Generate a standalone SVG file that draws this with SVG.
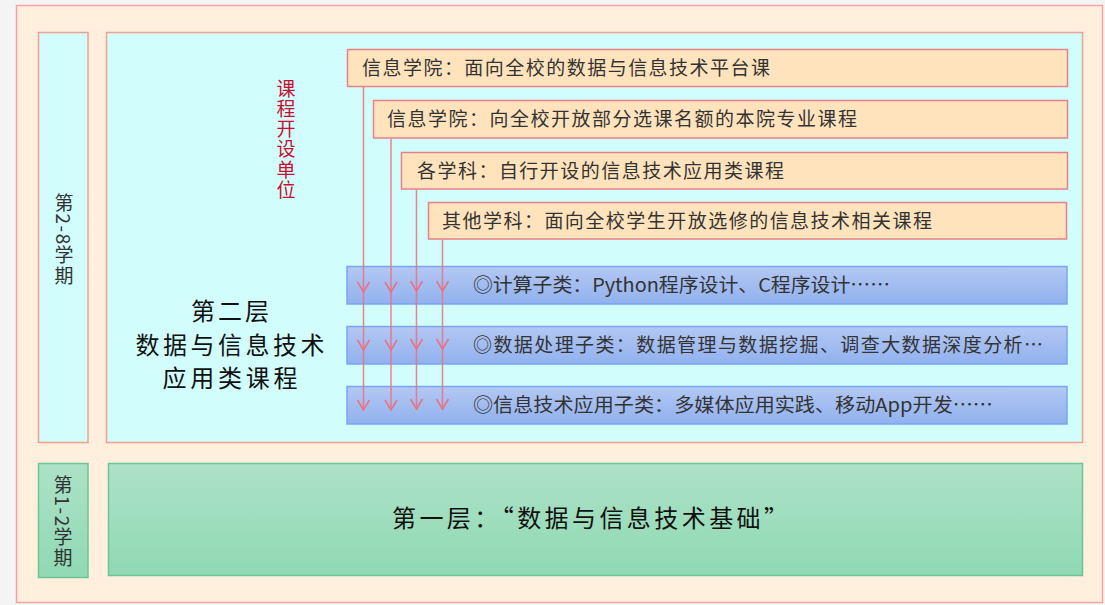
<svg xmlns="http://www.w3.org/2000/svg" width="1105" height="605" viewBox="0 0 1105 605">
<defs>
<linearGradient id="gBlue" x1="0" y1="0" x2="0" y2="1">
<stop offset="0" stop-color="#b3c8f3"/>
<stop offset="1" stop-color="#91b1ee"/>
</linearGradient>
<linearGradient id="gGreen" x1="0" y1="0" x2="0" y2="1">
<stop offset="0" stop-color="#ade2c7"/>
<stop offset="1" stop-color="#8fd9b3"/>
</linearGradient>
<style>
.cjk{font-family:"Noto Sans CJK SC","Noto Sans",sans-serif;}
.org{fill:#ffe3bd;stroke:#e9808a;stroke-width:1.5;}
.blu{fill:url(#gBlue);stroke:#79a6ee;stroke-width:1.5;}
.grn{fill:url(#gGreen);stroke:#6cc694;stroke-width:1.5;}
.cyan{fill:#d2fdfd;stroke:#f2a090;stroke-width:1.5;}
.t{font-size:19px;fill:#333;}
.v{writing-mode:tb;font-size:19px;fill:#333;}
.h{font-size:24px;fill:#111;}
.ln{stroke:#ee6f7e;stroke-width:1.5;stroke-opacity:0.85;fill:none;}
.arw{fill:none;stroke:#ee6f7e;stroke-width:1.5;}
</style>
</defs>
<rect x="0" y="0" width="1105" height="605" fill="#f4f4f4"/>
<rect x="16.5" y="5.5" width="1086" height="597" fill="#ffefdc" stroke="#f4a3a3" stroke-width="1.5"/>

<g id="term-2-8">
<rect class="cyan" x="38.5" y="32.5" width="49.5" height="410"/>
<text class="cjk v" x="64" y="193" letter-spacing="1.5">第2-8学期</text>
</g>
<g id="layer2">
<rect class="cyan" x="106.5" y="32.5" width="976" height="410"/>
<text class="cjk h" text-anchor="middle" x="230" y="320" textLength="78" lengthAdjust="spacing">第二层</text>
<text class="cjk h" text-anchor="middle" x="230" y="354" textLength="189" lengthAdjust="spacing">数据与信息技术</text>
<text class="cjk h" text-anchor="middle" x="230" y="387" textLength="135" lengthAdjust="spacing">应用类课程</text>
</g>
<g id="unit-label">
<text class="cjk" writing-mode="tb" font-size="19" fill="#c8102e" x="286" y="79" letter-spacing="1.2">课程开设单位</text>
</g>

<g id="org1"><rect class="org" x="347.5" y="49.5" width="720" height="37"/>
<text class="cjk t" x="362" y="75" textLength="408" lengthAdjust="spacing">信息学院：面向全校的数据与信息技术平台课</text></g>
<g id="org2"><rect class="org" x="373.5" y="100.5" width="694" height="37.5"/>
<text class="cjk t" x="387" y="126" textLength="470" lengthAdjust="spacing">信息学院：向全校开放部分选课名额的本院专业课程</text></g>
<g id="org3"><rect class="org" x="401.5" y="152.5" width="666" height="36.5"/>
<text class="cjk t" x="417" y="178" textLength="367" lengthAdjust="spacing">各学科：自行开设的信息技术应用类课程</text></g>
<g id="org4"><rect class="org" x="428.5" y="202.5" width="638" height="36.5"/>
<text class="cjk t" x="442" y="228" textLength="490" lengthAdjust="spacing">其他学科：面向全校学生开放选修的信息技术相关课程</text></g>

<g id="sub1"><rect class="blu" x="347" y="266.5" width="720" height="37.5"/>
<text class="cjk t" x="473" y="292" textLength="417" lengthAdjust="spacingAndGlyphs">◎计算子类：Python程序设计、C程序设计……</text></g>
<g id="sub2"><rect class="blu" x="347" y="326.5" width="720" height="37.5"/>
<text class="cjk t" x="473" y="352" textLength="570" lengthAdjust="spacing">◎数据处理子类：数据管理与数据挖掘、调查大数据深度分析…</text></g>
<g id="sub3"><rect class="blu" x="347" y="386.5" width="720" height="37.5"/>
<text class="cjk t" x="473" y="412" textLength="520" lengthAdjust="spacingAndGlyphs">◎信息技术应用子类：多媒体应用实践、移动App开发……</text></g>

<g id="connectors">
<line class="ln" x1="363.5" y1="87" x2="363.5" y2="410"/>
<line class="ln" x1="391" y1="138.5" x2="391" y2="410"/>
<line class="ln" x1="416.5" y1="189.5" x2="416.5" y2="410"/>
<line class="ln" x1="442.5" y1="239.5" x2="442.5" y2="410"/>
<path class="arw" d="M357.5,282 L363.5,292 L369.5,282 M385,282 L391,292 L397,282 M410.5,281 L416.5,291 L422.5,281 M436.5,281 L442.5,291 L448.5,281"/>
<path class="arw" d="M357.5,340 L363.5,350 L369.5,340 M385,340 L391,350 L397,340 M410.5,339 L416.5,349 L422.5,339 M436.5,339 L442.5,349 L448.5,339"/>
<path class="arw" d="M357.5,400 L363.5,410 L369.5,400 M385,400 L391,410 L397,400 M410.5,399 L416.5,409 L422.5,399 M436.5,399 L442.5,409 L448.5,399"/>
</g>

<g id="term-1-2">
<rect class="grn" x="38.5" y="463.5" width="49.5" height="114"/>
<text class="cjk v" x="63" y="475" letter-spacing="1.5">第1-2学期</text>
</g>
<g id="layer1">
<rect class="grn" x="108.5" y="463.5" width="974" height="112"/>
<text class="cjk" font-size="24" fill="#111" x="392" y="527" textLength="396" lengthAdjust="spacing">第一层：“数据与信息技术基础”</text>
</g>
</svg>
